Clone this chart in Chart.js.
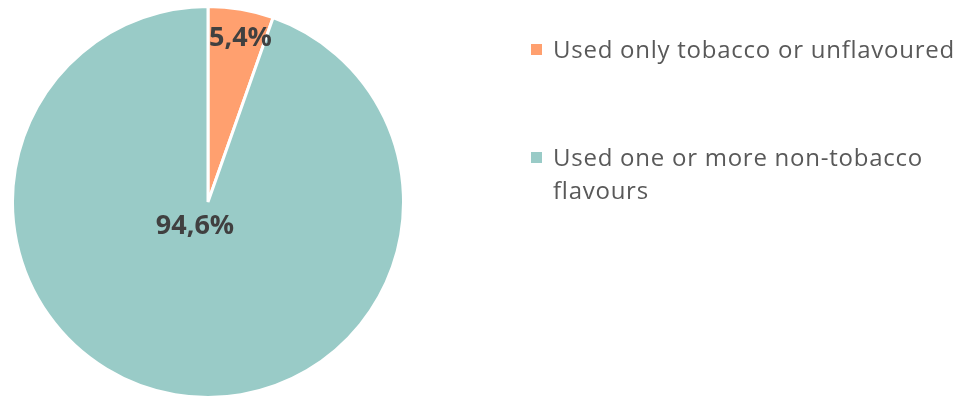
<!DOCTYPE html>
<html>
<head>
<meta charset="utf-8">
<script src="https://cdn.jsdelivr.net/npm/chart.js@4/dist/chart.umd.min.js"></script>
<style>
    html, body { margin: 0; padding: 0; background: #fff; }
    #wrap { position: relative; width: 963px; height: 399px; }
    #legend {
        position: absolute; left: 531px; top: 32px; width: 430px;
        font-family: "Open Sans", sans-serif; font-size: 24px; color: #595959;
        letter-spacing: 0.75px; line-height: 33px;
    }
    .legend-item { position: relative; padding-left: 22px; margin-bottom: 75px; }
    .legend-box { position: absolute; left: 0; top: 12px; width: 11px; height: 11px; }
</style>
</head>
<body>
<div id="wrap">
    <canvas id="chart" width="963" height="399"></canvas>
    <div id="legend"></div>
</div>
<script>
const categories = ['Used only tobacco or unflavoured', 'Used one or more non-tobacco flavours'];
const shares = [5.4, 94.6];
const sliceColors = ['#FFA06F', '#99CBC7'];

// value label placement: fraction of the radius, and a turn (degrees) off the slice middle
const labelRadius = [0.853, 0.14];
const labelTurn = [1.5, 18.7];

const sliceLabels = {
    id: 'sliceLabels',
    afterDatasetsDraw(chart) {
        const ctx = chart.ctx;
        const arcs = chart.getDatasetMeta(0).data;
        ctx.save();
        ctx.font = 'bold 27px "Open Sans", sans-serif';
        ctx.fillStyle = '#404040';
        ctx.textAlign = 'center';
        ctx.textBaseline = 'middle';
        arcs.forEach((arc, i) => {
            const mid = (arc.startAngle + arc.endAngle) / 2 + labelTurn[i] * Math.PI / 180;
            const r = arc.outerRadius * labelRadius[i];
            const x = arc.x + Math.cos(mid) * r;
            const y = arc.y + Math.sin(mid) * r;
            ctx.fillText(shares[i].toFixed(1).replace('.', ',') + '%', x, y);
        });
        ctx.restore();
    }
};

function buildLegend() {
    const legend = document.getElementById('legend');
    categories.forEach((name, i) => {
        const item = document.createElement('div');
        item.className = 'legend-item';
        const box = document.createElement('span');
        box.className = 'legend-box';
        box.style.background = sliceColors[i];
        item.appendChild(box);
        item.appendChild(document.createTextNode(name));
        legend.appendChild(item);
    });
}

new Chart(document.getElementById('chart'), {
    type: 'pie',
    data: {
        labels: categories,
        datasets: [{
            data: shares,
            backgroundColor: sliceColors,
            borderColor: '#ffffff',
            borderWidth: 3
        }]
    },
    options: {
        responsive: false,
        animation: false,
        layout: { padding: { left: 11, top: 5, right: 558, bottom: 0 } },
        plugins: {
            legend: { display: false },
            tooltip: { enabled: false }
        }
    },
    plugins: [sliceLabels]
});

buildLegend();
</script>
</body>
</html>
